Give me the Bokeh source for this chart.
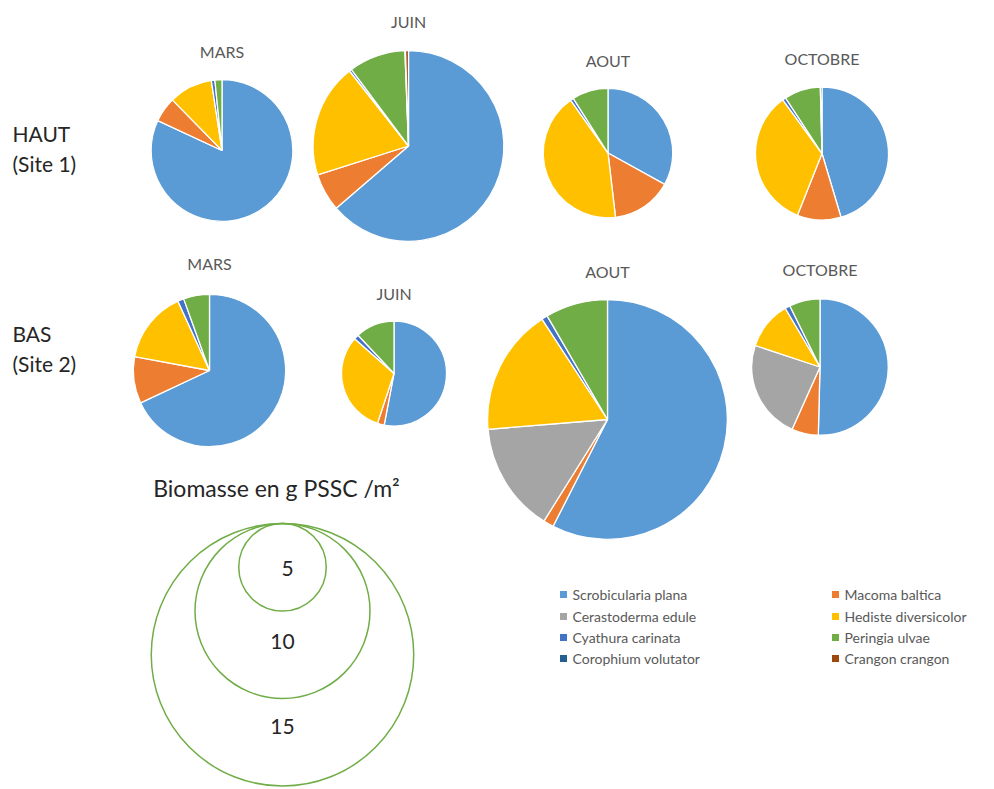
import numpy as np
from bokeh.plotting import figure
from bokeh.models import ColumnDataSource, Range1d
from bokeh.core.properties import value
from bokeh.embed import file_html
from bokeh.resources import INLINE

# ---------------- data ----------------
species = ["Scrobicularia plana", "Macoma baltica", "Cerastoderma edule",
           "Hediste diversicolor", "Cyathura carinata", "Peringia ulvae",
           "Corophium volutator", "Crangon crangon"]
months = ["MARS", "JUIN", "AOUT", "OCTOBRE"]
sites = ["HAUT\n(Site 1)", "BAS\n(Site 2)"]

# total biomass (g PSSC / m2) per month
biomass_haut = [8.1, 10.9, 7.4, 7.6]
biomass_bas = [8.7, 6.0, 13.7, 7.8]

# composition (%) in species order
haut_mars = [81.6, 5.7, 0.0, 9.9, 0.8, 1.6, 0.0, 0.0]
haut_juin = [63.7, 6.4, 0.0, 19.3, 0.4, 9.6, 0.1, 0.5]
haut_aout = [33.0, 15.1, 0.0, 42.0, 0.8, 9.0, 0.0, 0.0]
haut_octobre = [45.2, 10.6, 0.0, 33.8, 0.8, 8.8, 0.4, 0.0]
bas_mars = [68.0, 9.9, 0.0, 15.3, 1.3, 5.5, 0.0, 0.0]
bas_juin = [53.0, 2.1, 0.0, 31.4, 1.5, 12.0, 0.0, 0.0]
bas_aout = [57.5, 1.4, 14.8, 17.1, 0.8, 8.4, 0.0, 0.0]
bas_octobre = [50.4, 6.3, 23.4, 11.4, 1.2, 7.3, 0.0, 0.0]

size_legend_values = [15, 10, 5]
size_legend_title = "Biomasse en g PSSC /m²"

# ---------------- styles / layout ----------------
colors = ["#5B9BD5", "#ED7D31", "#A5A5A5", "#FFC000",
          "#4472C4", "#70AD47", "#255E91", "#9E480E"]
FONT = "Lato"
K = 8.75  # px of radius per g PSSC/m2
W, H = 978, 789


def sx(screen_x):
    return screen_x


def sy(screen_y):
    return H - screen_y


haut_centers = [(221.5, 150), (408, 145.5), (607.5, 152.5), (821.5, 153)]
bas_centers = [(209, 370), (393.5, 373), (607, 419), (819.5, 366.5)]
# vertical centre of the month titles
haut_title_y = [50.5, 21, 60, 57.5]
bas_title_y = [262.5, 292.5, 270.5, 268.5]

p = figure(width=W, height=H, output_backend="svg", toolbar_location=None,
           x_range=Range1d(0, W), y_range=Range1d(0, H),
           min_border=0, background_fill_color="white")
p.axis.visible = False
p.grid.visible = False
p.outline_line_color = None

rows = [
    (haut_centers, haut_title_y, biomass_haut, [haut_mars, haut_juin, haut_aout, haut_octobre]),
    (bas_centers, bas_title_y, biomass_bas, [bas_mars, bas_juin, bas_aout, bas_octobre]),
]

wx, wy, wr, ws, we, wc = [], [], [], [], [], []
tx, ty, tt = [], [], []
for centers, title_y, biom, comps in rows:
    for (cx, cy), t_y, b, comp, m in zip(centers, title_y, biom, comps, months):
        frac = np.array(comp, dtype=float)
        frac = frac / frac.sum()
        cum = np.concatenate([[0.0], np.cumsum(frac)])
        for i in range(len(species)):
            if frac[i] <= 0:
                continue
            wx.append(sx(cx))
            wy.append(sy(cy))
            wr.append(b * K)
            ws.append(np.pi / 2 - cum[i + 1] * 2 * np.pi)
            we.append(np.pi / 2 - cum[i] * 2 * np.pi)
            wc.append(colors[i])
        tx.append(sx(cx))
        ty.append(sy(t_y))
        tt.append(m)

wsrc = ColumnDataSource(dict(x=wx, y=wy, r=wr, s=ws, e=we, c=wc))
p.wedge(x="x", y="y", radius="r", start_angle="s", end_angle="e",
        fill_color="c", line_color="white", line_width=1.3, source=wsrc)

p.text(x=tx, y=ty, text=tt, text_font=value(FONT), text_font_size=value("16px"),
       text_color="#595959", text_align="center", text_baseline="middle")

# site labels
site_lines = []
for s in sites:
    site_lines.extend(s.split("\n"))
p.text(x=[sx(12)] * 4, y=[sy(132.5), sy(163), sy(332.5), sy(363)], text=site_lines,
       text_font=value(FONT), text_font_size=value("21px"), text_color="#262626",
       text_align="left", text_baseline="middle")

# size legend
lcx, ltop = 282, 523
p.circle(x=[sx(lcx)] * 3, y=[sy(ltop + v * K) for v in size_legend_values],
         radius=[v * K for v in size_legend_values], fill_color=None,
         line_color="#70AD47", line_width=1.5)
num_y = [725.5, 640.5, 567.5]
num_x = [282, 282, 287]
p.text(x=[sx(v) for v in num_x], y=[sy(v) for v in num_y],
       text=[str(v) for v in size_legend_values],
       text_font=value(FONT), text_font_size=value("21px"), text_color="#262626",
       text_align="center", text_baseline="middle")
p.text(x=[sx(276)], y=[sy(487)], text=[size_legend_title], text_font=value(FONT),
       text_font_size=value("23px"), text_color="#262626", text_align="center",
       text_baseline="middle")

# species legend (2 columns)
col_x = [563, 835]
row_y = [594, 616, 637, 658]
lx, ly, ltxt, lcol = [], [], [], []
for i, (sp, c) in enumerate(zip(species, colors)):
    lx.append(col_x[i % 2])
    ly.append(row_y[i // 2])
    ltxt.append(sp)
    lcol.append(c)
p.scatter(x=[sx(v) for v in lx], y=[sy(v) for v in ly], marker="square", size=7,
          fill_color=lcol, line_color=None)
p.text(x=[sx(v + 9) for v in lx], y=[sy(v) for v in ly], text=ltxt,
       text_font=value(FONT), text_font_size=value("14px"), text_color="#595959",
       text_align="left", text_baseline="middle")

open("out.html", "w").write(file_html(p, INLINE))
